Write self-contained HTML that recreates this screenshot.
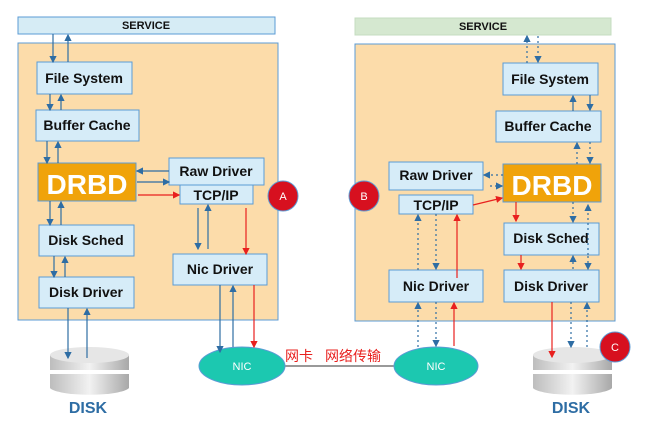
<!DOCTYPE html>
<html><head><meta charset="utf-8"><style>body{margin:0;background:#fff}svg{display:block}</style></head><body>
<svg width="648" height="421" viewBox="0 0 648 421" xmlns="http://www.w3.org/2000/svg" font-family="Liberation Sans, Noto Sans CJK SC, sans-serif">
<defs>
<marker id="b" markerWidth="6" markerHeight="6" refX="5" refY="3" orient="auto"><path d="M0,0L6,3L0,6z" fill="#2e6da4"/></marker>
<marker id="r" markerWidth="6" markerHeight="6" refX="5" refY="3" orient="auto"><path d="M0,0L6,3L0,6z" fill="#e8201e"/></marker>
<linearGradient id="cy" x1="0" x2="1"><stop offset="0" stop-color="#bdbdbd"/><stop offset=".5" stop-color="#f2f2f2"/><stop offset="1" stop-color="#a8a8a8"/></linearGradient>
</defs>
<g stroke="#5b9bd5" stroke-width="1">
<rect x="18" y="17" width="257" height="17" fill="#d6ecf5"/>
<rect x="355" y="18" width="256" height="17" fill="#d5e8d0" stroke="#c5dcc0"/>
<rect x="18" y="43" width="260" height="277" fill="#fcdcaa"/>
<rect x="355" y="44" width="260" height="277" fill="#fcdcaa"/>
<g fill="#d6ecf8">
<rect x="37" y="62" width="95" height="32"/><rect x="36" y="110" width="103" height="31"/>
<rect x="169" y="158" width="95" height="27"/><rect x="180" y="185" width="73" height="19"/>
<rect x="39" y="225" width="95" height="31"/><rect x="39" y="277" width="95" height="31"/>
<rect x="173" y="254" width="94" height="31"/>
<rect x="503" y="63" width="95" height="32"/><rect x="496" y="111" width="105" height="31"/>
<rect x="389" y="162" width="94" height="28"/><rect x="399" y="195" width="74" height="19"/>
<rect x="504" y="223" width="95" height="32"/><rect x="504" y="270" width="95" height="32"/>
<rect x="389" y="270" width="94" height="32"/>
</g>
<rect x="38" y="163" width="98" height="38" fill="#f0a30a" stroke="#5b9bd5"/>
<rect x="503" y="164" width="98" height="38" fill="#f0a30a" stroke="#5b9bd5"/>
</g>
<g font-weight="bold" font-size="14" text-anchor="middle" fill="#111">
<text x="84" y="83">File  System</text><text x="87" y="130">Buffer Cache</text>
<text x="216" y="176">Raw Driver</text><text x="216" y="200">TCP/IP</text>
<text x="86" y="245">Disk Sched</text><text x="86" y="297">Disk Driver</text>
<text x="220" y="274">Nic Driver</text>
<text x="550" y="84">File  System</text><text x="548" y="131">Buffer Cache</text>
<text x="436" y="180">Raw Driver</text><text x="436" y="210">TCP/IP</text>
<text x="551" y="243">Disk Sched</text><text x="551" y="291">Disk Driver</text>
<text x="436" y="291">Nic Driver</text>
<text x="146" y="29" font-size="11">SERVICE</text><text x="483" y="30" font-size="11">SERVICE</text>
<text x="87" y="194" font-size="28" fill="#fff">DRBD</text><text x="552" y="195" font-size="28" fill="#fff">DRBD</text>
<text x="88" y="413" font-size="16" fill="#2e6da4">DISK</text><text x="571" y="413" font-size="16" fill="#2e6da4">DISK</text>
</g>
<!-- NICs -->
<line x1="285" y1="366" x2="394" y2="366" stroke="#333"/>
<ellipse cx="242" cy="366" rx="43" ry="19" fill="#1cc8b0" stroke="#5b9bd5"/>
<ellipse cx="436" cy="366" rx="42" ry="19" fill="#1cc8b0" stroke="#5b9bd5"/>
<text x="242" y="370" font-size="11" fill="#fff" text-anchor="middle">NIC</text>
<text x="436" y="370" font-size="11" fill="#fff" text-anchor="middle">NIC</text>
<text x="285" y="361" font-size="14" fill="#e8201e">网卡</text>
<text x="325" y="361" font-size="14" fill="#e8201e">网络传输</text>
<!-- disks -->
<g>
<path d="M50,355 v33 a40,8 0 0 0 79,0 v-33z" fill="url(#cy)"/>
<rect x="50" y="370" width="79" height="4" fill="#fff"/>
<ellipse cx="89.5" cy="355" rx="39.5" ry="8" fill="#e6e6e6"/>
<path d="M533,355 v33 a40,8 0 0 0 79,0 v-33z" fill="url(#cy)"/>
<rect x="533" y="370" width="79" height="4" fill="#fff"/>
<ellipse cx="572.5" cy="355" rx="39.5" ry="8" fill="#e6e6e6"/>
</g>
<!-- circles -->
<g fill="#d7101f" stroke="#5b9bd5"><circle cx="283" cy="196" r="15"/><circle cx="364" cy="196" r="15"/><circle cx="615" cy="347" r="15"/></g>
<g fill="#fff" font-size="11" text-anchor="middle"><text x="283" y="200">A</text><text x="364" y="200">B</text><text x="615" y="351">C</text></g>
<!-- left arrows -->
<g stroke="#2e6da4" stroke-width="1.2" marker-end="url(#b)">
<line x1="53" y1="34" x2="53" y2="62"/><line x1="68" y1="62" x2="68" y2="35"/>
<line x1="50" y1="94" x2="50" y2="110"/><line x1="61" y1="110" x2="61" y2="95"/>
<line x1="47" y1="141" x2="47" y2="163"/><line x1="58" y1="163" x2="58" y2="142"/>
<line x1="169" y1="171" x2="137" y2="171"/><line x1="137" y1="182" x2="169" y2="182"/>
<line x1="50" y1="201" x2="50" y2="225"/><line x1="61" y1="225" x2="61" y2="202"/>
<line x1="54" y1="256" x2="54" y2="277"/><line x1="65" y1="277" x2="65" y2="257"/>
<line x1="68" y1="308" x2="68" y2="358"/><line x1="87" y1="358" x2="87" y2="309"/>
<line x1="198" y1="208" x2="198" y2="249"/><line x1="208" y1="249" x2="208" y2="205"/>
<line x1="220" y1="285" x2="220" y2="352"/><line x1="233" y1="347" x2="233" y2="286"/>
</g>
<g stroke="#e8201e" stroke-width="1.2" marker-end="url(#r)">
<line x1="138" y1="195" x2="179" y2="195"/><line x1="246" y1="208" x2="246" y2="254"/>
<line x1="254" y1="285" x2="254" y2="347"/>
</g>
<!-- right arrows -->
<g stroke="#2e6da4" stroke-width="1.2" stroke-dasharray="2,3" marker-end="url(#b)">
<line x1="527" y1="63" x2="527" y2="36"/><line x1="538" y1="36" x2="538" y2="62"/>
<line x1="577" y1="164" x2="577" y2="143"/><line x1="590" y1="142" x2="590" y2="163"/>
<line x1="503" y1="175" x2="484" y2="175"/><line x1="490" y1="186" x2="502" y2="186"/>
<line x1="573" y1="202" x2="573" y2="222"/><line x1="588" y1="255" x2="588" y2="205"/>
<line x1="573" y1="269" x2="573" y2="256"/><line x1="588" y1="256" x2="588" y2="269"/>
<line x1="571" y1="302" x2="571" y2="347"/><line x1="587" y1="347" x2="587" y2="303"/>
<line x1="418" y1="270" x2="418" y2="215"/><line x1="436" y1="214" x2="436" y2="269"/>
<line x1="418" y1="347" x2="418" y2="303"/><line x1="436" y1="302" x2="436" y2="346"/>
</g>
<g stroke="#2e6da4" stroke-width="1.2" marker-end="url(#b)">
<line x1="573" y1="111" x2="573" y2="96"/><line x1="590" y1="95" x2="590" y2="110"/>
</g>
<g stroke="#e8201e" stroke-width="1.2" marker-end="url(#r)">
<line x1="473" y1="205" x2="502" y2="198"/><line x1="516" y1="202" x2="516" y2="221"/>
<line x1="521" y1="255" x2="521" y2="269"/><line x1="552" y1="302" x2="552" y2="357"/>
<line x1="457" y1="278" x2="457" y2="215"/><line x1="454" y1="346" x2="454" y2="303"/>
</g>
</svg>
</body></html>
